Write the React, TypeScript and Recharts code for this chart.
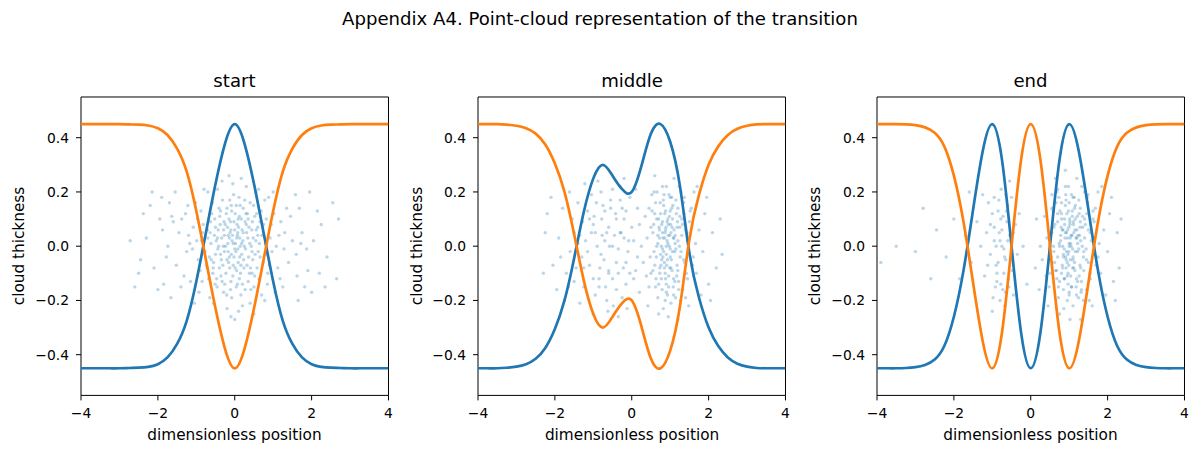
import { ScatterChart, Scatter, XAxis, YAxis, ReferenceArea } from "recharts"

const BLUE = "#1f77b4"
const ORANGE = "#ff7f0e"
const FONT = "'DejaVu Sans', sans-serif"

const suptitle = "Appendix A4. Point-cloud representation of the transition"
const panelTitles = ["start", "middle", "end"]
const xLabel = "dimensionless position"
const yLabel = "cloud thickness"
const xTicks = [-4, -2, 0, 2, 4]
const yTicks = [-0.4, -0.2, 0, 0.2, 0.4]

// positions the curves are sampled at
const positions = [
  -4, -3.75, -3.5, -3.25, -3, -2.75, -2.5, -2.25, -2, -1.75, -1.5, -1.25, -1, -0.75, -0.5, -0.25, 0,
  0.25, 0.5, 0.75, 1, 1.25, 1.5, 1.75, 2, 2.25, 2.5, 2.75, 3, 3.25, 3.5, 3.75, 4,
]

const startBlue = [
  -0.45, -0.45, -0.45, -0.45, -0.45, -0.449, -0.448, -0.445, -0.435, -0.41, -0.36, -0.275, -0.13, 0.05, 0.23, 0.38, 0.45,
  0.38, 0.23, 0.05, -0.13, -0.275, -0.36, -0.41, -0.435, -0.445, -0.448, -0.449, -0.45, -0.45, -0.45, -0.45, -0.45,
]
const startOrange = [
  0.45, 0.45, 0.45, 0.45, 0.45, 0.449, 0.448, 0.445, 0.435, 0.41, 0.36, 0.275, 0.13, -0.05, -0.23, -0.38, -0.45,
  -0.38, -0.23, -0.05, 0.13, 0.275, 0.36, 0.41, 0.435, 0.445, 0.448, 0.449, 0.45, 0.45, 0.45, 0.45, 0.45,
]
const middleBlue = [
  -0.45, -0.45, -0.45, -0.448, -0.444, -0.435, -0.415, -0.375, -0.305, -0.2, -0.045, 0.125, 0.25, 0.3, 0.26, 0.21, 0.2,
  0.295, 0.415, 0.45, 0.385, 0.225, -0.025, -0.19, -0.3, -0.368, -0.41, -0.433, -0.444, -0.449, -0.45, -0.45, -0.45,
]
const middleOrange = [
  0.45, 0.45, 0.45, 0.448, 0.444, 0.435, 0.415, 0.375, 0.305, 0.2, 0.045, -0.125, -0.25, -0.3, -0.26, -0.21, -0.2,
  -0.295, -0.415, -0.45, -0.385, -0.225, 0.025, 0.19, 0.3, 0.368, 0.41, 0.433, 0.444, 0.449, 0.45, 0.45, 0.45,
]
const endBlue = [
  -0.45, -0.45, -0.45, -0.449, -0.446, -0.438, -0.418, -0.368, -0.26, -0.09, 0.135, 0.35, 0.45, 0.32, 0.0, -0.32, -0.45,
  -0.32, 0.0, 0.32, 0.45, 0.35, 0.135, -0.09, -0.26, -0.368, -0.418, -0.438, -0.446, -0.449, -0.45, -0.45, -0.45,
]
const endOrange = [
  0.45, 0.45, 0.45, 0.449, 0.446, 0.438, 0.418, 0.368, 0.26, 0.09, -0.135, -0.35, -0.45, -0.32, 0.0, 0.32, 0.45,
  0.32, 0.0, -0.32, -0.45, -0.35, -0.135, 0.09, 0.26, 0.368, 0.418, 0.438, 0.446, 0.449, 0.45, 0.45, 0.45,
]

// point clouds, [position, thickness]
const startCloud = [
  [0.02,0.01],[-0.12,0.05],[0.18,-0.03],[-0.31,-0.07],[0.44,0.06],[-0.05,-0.11],[0.27,0.09],[-0.48,0.02],[0.09,-0.06],[-0.22,0.12],
  [0.61,-0.02],[-0.66,-0.04],[0.35,-0.13],[-0.09,0.15],[0.13,0.03],[-0.38,0.08],[0.52,0.11],[-0.17,-0.02],[0.06,0.08],[-0.57,-0.1],
  [0.71,0.04],[-0.26,-0.14],[0.22,0.14],[-0.02,-0.04],[0.39,0.01],[-0.44,-0.01],[0.15,-0.1],[-0.71,0.06],[0.58,-0.08],[-0.13,-0.08],
  [0.31,0.05],[-0.34,0.03],[0.01,0.12],[-0.52,0.1],[0.47,-0.05],[-0.07,0.02],[0.24,-0.08],[-0.19,0.07],[0.66,0.09],[-0.62,0.01],
  [0.11,0.18],[-0.29,-0.17],[0.42,-0.16],[-0.41,0.14],[0.04,-0.15],[0.19,0.06],[-0.1,-0.13],[0.55,0.02],[-0.55,-0.06],[0.33,0.12],
  [-0.24,0.0],[0.08,-0.01],[-0.36,-0.11],[0.74,-0.06],[-0.77,-0.02],[0.28,-0.01],[-0.15,0.1],[0.49,0.15],[-0.46,-0.15],[0.0,0.06],
  [0.16,-0.18],[-0.03,0.19],[0.37,0.07],[-0.6,0.12],[0.63,-0.12],[-0.2,-0.05],[0.12,0.11],[-0.32,0.17],[0.45,-0.1],[-0.08,-0.19],
  [0.21,0.02],[-0.5,-0.03],[0.8,0.01],[-0.82,0.08],[0.05,-0.09],[-0.27,0.04],[0.36,-0.04],[-0.14,0.03],[0.6,0.07],[-0.68,-0.12],
  [0.26,0.17],[-0.4,-0.08],[0.14,0.0],[-0.04,-0.07],[0.5,-0.15],[-0.58,0.16],[0.69,0.13],[-0.72,-0.08],[0.07,0.04],[-0.11,0.09],
  [0.92,0.03],[-0.95,-0.05],[1.12,-0.08],[-1.08,0.07],[0.85,-0.14],[-0.88,0.13],[1.3,0.05],[-1.25,-0.02],[1.02,0.12],[-1.15,-0.13],
  [0.97,-0.02],[-0.99,0.02],[1.4,-0.06],[-1.38,0.1],[0.88,0.18],[-0.93,-0.17],[1.2,0.09],[-1.2,0.04],[1.05,-0.17],[-1.02,0.16],
  [1.5,0.02],[-1.52,-0.07],[0.78,-0.2],[-0.8,0.21],[1.18,-0.12],[-1.32,-0.11],[0.95,0.08],[-0.9,-0.09],[1.35,0.14],[-1.45,0.05],
  [1.08,0.0],[-1.1,-0.01],[0.82,0.1],[-0.85,-0.13],[1.6,-0.03],[-1.6,0.09],[1.25,-0.15],[-1.22,0.15],[0.9,-0.07],[-0.97,0.1],
  [1.45,0.11],[-1.4,-0.15],[1.0,0.2],[-1.05,-0.21],[1.15,0.04],[-1.17,0.01],[0.86,-0.1],[-0.84,0.05],[1.28,-0.01],[-1.28,0.12],
  [0.3,0.22],[-0.2,-0.23],[0.55,0.2],[-0.45,0.21],[0.1,-0.24],[-0.65,-0.19],[0.4,-0.21],[-0.05,0.23],[0.7,-0.18],[-0.33,0.24],
  [0.2,-0.22],[0.62,0.21],[-0.55,-0.21],[0.0,-0.27],[-0.15,0.26],[0.5,-0.25],[0.17,0.25],[-0.7,0.2],[0.78,0.17],[-0.1,-0.26],
  [1.75,0.05],[-1.78,-0.04],[1.9,-0.09],[-1.95,0.1],[2.05,0.02],[-2.1,-0.08],[1.68,0.14],[-1.7,0.16],[1.82,-0.15],[-1.85,-0.14],
  [2.25,0.08],[-2.3,0.03],[2.4,-0.04],[-2.45,-0.05],[2.65,-0.12],[-2.72,0.02],[1.65,-0.2],[-1.66,-0.19],[2.15,0.13],[-2.2,0.15],
  [1.95,0.2],[-1.9,0.18],[2.0,-0.17],[-2.0,-0.16],[2.35,-0.15],[-2.5,-0.1],[1.72,0.01],[-1.74,0.0],[2.55,0.16],[-2.15,0.2],
  [1.58,0.19],[-1.55,0.2],[2.7,0.1],[-2.6,-0.15],[1.87,-0.01],[-1.88,0.06],[2.2,-0.1],[-2.38,0.12],[1.62,-0.11],[-1.64,0.11],
]
const startCore = [
  [0.03,-0.02],[-0.06,0.04],[0.1,0.07],[-0.16,-0.06],[0.23,-0.05],[-0.28,0.09],[0.34,0.03],[-0.37,-0.03],[0.41,-0.08],[-0.43,0.06],
  [0.12,-0.12],[-0.2,0.14],[0.29,0.12],[-0.33,-0.13],[0.46,0.09],[-0.5,0.07],[0.53,-0.03],[-0.56,-0.08],[0.6,0.04],[-0.63,0.09],
  [0.0,-0.01],[-0.02,0.09],[0.07,-0.14],[-0.11,-0.16],[0.17,0.1],[-0.23,-0.1],[0.25,0.0],[-0.3,0.0],[0.38,-0.1],[-0.39,0.11],
  [0.14,0.15],[-0.08,0.13],[0.2,-0.14],[-0.25,0.08],[0.32,-0.07],[-0.35,-0.05],[0.48,0.03],[-0.47,-0.12],[0.57,0.12],[-0.53,0.04],
  [0.05,0.03],[-0.14,-0.04],[0.09,0.1],[-0.18,0.01],[0.22,0.05],[-0.27,-0.02],[0.3,0.08],[-0.42,0.0],[0.43,0.0],[-0.61,-0.05],
  [0.66,-0.04],[-0.7,0.03],[0.75,0.08],[-0.74,-0.07],[0.84,-0.03],[-0.86,0.02],[0.13,-0.04],[-0.09,-0.03],[0.18,0.01],[-0.04,0.01],
  [0.01,-0.08],[0.04,0.15],[-0.13,0.17],[0.27,-0.16],[-0.21,-0.18],[0.4,0.16],[-0.37,0.13],[0.52,-0.11],[-0.51,-0.14],[0.64,0.01],
  [0.08,0.05],[-0.1,0.06],[0.16,-0.07],[-0.17,0.04],[0.35,0.1],[-0.29,0.06],[0.45,-0.02],[-0.45,0.03],[0.56,0.06],[-0.64,0.05],
]
const middleCloud = [
  [0.92,0.02],[0.78,-0.05],[1.05,0.07],[0.65,0.1],[1.2,-0.09],[0.88,-0.12],[1.0,0.13],[0.72,0.03],[1.12,-0.02],[0.95,0.08],
  [0.6,-0.07],[1.3,0.04],[0.83,0.15],[1.08,-0.15],[0.7,-0.14],[1.25,0.11],[0.9,-0.03],[0.98,0.0],[0.55,0.05],[1.38,-0.06],
  [0.8,0.09],[1.15,0.17],[0.68,-0.19],[1.02,-0.08],[0.87,0.05],[1.22,-0.13],[0.75,0.12],[1.45,0.02],[0.5,-0.1],[0.93,-0.18],
  [1.1,0.03],[0.62,0.16],[1.33,-0.16],[0.85,-0.08],[0.97,0.19],[1.18,0.07],[0.58,-0.02],[1.5,0.09],[0.73,-0.1],[1.06,0.1],
  [0.4,0.03],[1.6,-0.04],[0.9,0.22],[0.82,-0.23],[1.28,0.2],[0.66,0.2],[1.4,-0.19],[0.45,-0.15],[1.02,-0.21],[0.77,0.0],
  [1.55,0.14],[0.35,0.11],[1.68,-0.1],[0.3,-0.06],[1.75,0.06],[0.95,-0.26],[1.1,0.25],[0.52,0.19],[1.35,0.16],[0.7,-0.25],
  [1.85,-0.02],[0.25,0.0],[1.9,0.12],[0.2,-0.17],[2.0,-0.14],[1.62,0.2],[0.42,-0.22],[1.48,-0.22],[0.6,0.26],[1.2,-0.27],
  [2.1,0.05],[2.2,-0.08],[2.3,0.1],[2.35,-0.03],[1.95,0.18],[1.8,-0.18],[2.05,-0.2],[1.7,0.22],[0.15,0.14],[0.1,-0.09],
  [0.88,0.06],[1.03,-0.05],[0.8,-0.01],[1.13,0.01],[0.96,-0.11],[0.71,0.07],[1.24,0.0],[0.86,0.12],[1.07,0.15],[0.64,-0.04],
  [1.17,-0.11],[0.91,-0.07],[0.99,0.04],[0.79,-0.16],[1.32,0.08],[0.57,0.08],[1.42,-0.1],[0.84,0.19],[1.14,-0.19],[0.68,0.01],
  [0.94,0.1],[1.26,-0.04],[0.76,-0.07],[1.04,0.18],[0.48,-0.04],[1.36,0.12],[0.9,-0.14],[1.2,0.14],[0.63,-0.12],[1.0,-0.01],
  [0.74,0.16],[1.09,-0.12],[0.81,0.03],[1.44,0.05],[0.53,0.13],[1.58,-0.07],[0.87,-0.2],[1.23,0.22],[0.38,-0.11],[1.66,0.01],
  [-0.7,0.02],[-0.4,-0.06],[-1.0,0.08],[-0.2,0.1],[-1.3,-0.04],[-0.55,0.14],[-0.85,-0.12],[-0.1,-0.02],[-1.5,0.05],[-0.3,0.17],
  [-0.95,-0.18],[-0.6,-0.09],[-1.15,0.13],[0.0,0.07],[-1.7,-0.1],[-0.45,0.04],[-0.78,0.1],[-1.25,-0.15],[-0.15,-0.14],[-1.9,0.03],
  [-0.65,-0.2],[-1.05,0.19],[-0.35,-0.01],[-1.4,0.16],[0.05,-0.12],[-0.9,0.0],[-0.5,0.21],[-1.6,-0.02],[-0.25,-0.19],[-2.05,-0.07],
  [-1.2,0.02],[-0.8,0.2],[-0.05,0.18],[-1.35,-0.21],[-0.6,0.07],[-2.2,0.12],[-0.4,-0.16],[-1.1,-0.07],[-1.8,0.14],[-0.72,-0.05],
  [0.1,0.21],[-0.98,0.11],[-0.28,0.05],[-1.45,-0.08],[-0.62,-0.24],[-1.62,0.2],[-0.12,-0.23],[-2.3,-0.1],[-0.88,0.24],[-1.28,0.09],
  [-0.5,-0.12],[-0.2,0.25],[-1.0,-0.25],[-1.95,-0.16],[-0.75,0.15],[-0.35,-0.26],[-1.55,0.1],[0.15,-0.04],[-1.15,-0.02],[-0.83,-0.08],
  [-2.1,0.18],[-0.58,0.0],[-1.75,-0.2],[-0.42,0.12],[-1.35,0.04],[0.2,0.08],[-0.68,-0.15],[-1.05,0.05],[-0.22,-0.08],[-1.5,-0.13],
  [-0.92,0.16],[-0.3,0.22],[-2.25,0.05],[-1.22,0.23],[-0.08,0.02],[-1.85,-0.04],[-0.48,-0.22],[-0.15,0.13],[-1.65,-0.15],[-0.77,0.04],
]
const middleCore = [
  [0.9,0.0],[0.95,0.04],[0.85,-0.06],[1.0,-0.04],[0.8,0.05],[1.1,0.06],[0.75,-0.03],[1.05,-0.09],[0.92,0.09],[1.15,-0.01],
  [0.7,0.1],[1.2,0.02],[0.87,-0.1],[0.98,0.11],[1.08,0.03],[0.78,0.08],[1.18,-0.07],[0.83,-0.02],[1.02,0.05],[0.93,-0.05],
  [0.65,0.0],[1.28,-0.02],[0.88,0.13],[1.12,-0.13],[0.73,-0.08],[1.25,0.07],[0.96,-0.15],[1.04,0.14],[0.82,0.17],[1.16,0.12],
  [0.6,0.12],[1.35,-0.05],[0.77,-0.12],[1.3,0.1],[0.55,-0.09],[1.4,0.06],[0.9,-0.17],[1.0,0.18],[0.68,0.04],[1.22,-0.16],
  [0.94,0.01],[0.86,0.03],[1.06,-0.02],[0.81,-0.04],[1.13,0.04],[0.99,-0.08],[0.72,0.06],[1.19,0.09],[0.89,0.07],[1.01,0.08],
  [0.5,0.07],[1.45,-0.12],[0.62,-0.15],[1.52,0.13],[0.45,0.14],[1.27,-0.2],[0.8,0.22],[1.09,-0.18],[0.58,0.2],[1.37,0.18],
  [-0.5,0.0],[-0.8,-0.03],[-0.3,0.05],[-1.1,0.1],[-0.6,-0.1],[-0.95,0.05],[-0.15,-0.06],[-1.25,-0.08],[-0.4,0.1],[-0.7,0.13],
  [-0.2,0.03],[-1.4,0.01],[-0.85,-0.15],[-0.05,-0.1],[-0.55,0.17],[-1.0,-0.12],[-0.25,0.14],[-0.65,0.05],[0.05,0.02],[-0.35,-0.1],
]
const endCloud = [
  [-0.8,0.02],[-0.65,-0.05],[-0.95,0.07],[-0.72,0.11],[-0.88,-0.1],[-0.55,0.04],[-1.05,-0.03],[-0.78,-0.14],[-0.6,0.15],[-1.0,0.12],
  [-0.7,-0.01],[-0.9,0.0],[-0.48,-0.09],[-1.15,0.05],[-0.83,0.17],[-0.66,-0.17],[-1.2,-0.11],[-0.4,0.08],[-0.98,-0.19],[-0.75,0.06],
  [-0.58,-0.12],[-1.1,0.16],[-0.85,-0.06],[-0.5,0.18],[-1.3,0.0],[-0.62,0.09],[-0.92,-0.15],[-0.35,-0.03],[-1.4,0.09],[-0.77,0.21],
  [-0.68,-0.22],[-1.55,-0.06],[-0.3,0.12],[-1.25,0.19],[-0.45,-0.18],[-1.7,0.04],[-0.2,0.0],[-1.85,-0.12],[-1.0,-0.24],[-0.55,0.24],
  [-2.0,0.1],[-2.2,-0.04],[-2.45,0.06],[-2.8,0.14],[-3.0,-0.02],[-3.5,0.0],[-3.9,-0.06],[-2.6,-0.12],[-1.6,0.2],[-0.1,-0.14],
  [1.0,0.01],[0.85,-0.04],[1.15,0.06],[0.7,0.09],[1.3,-0.08],[0.95,-0.11],[1.08,0.13],[0.78,0.02],[1.22,-0.02],[1.02,0.08],
  [0.62,-0.06],[1.4,0.03],[0.9,0.15],[1.18,-0.15],[0.75,-0.13],[1.35,0.11],[0.97,-0.03],[1.05,0.0],[0.55,0.05],[1.5,-0.06],
  [0.88,0.1],[1.25,0.17],[0.72,-0.19],[1.12,-0.08],[0.93,0.05],[1.32,-0.13],[0.8,0.12],[1.58,0.02],[0.5,-0.1],[1.0,-0.18],
  [1.2,0.03],[0.66,0.16],[1.45,-0.16],[0.92,-0.08],[1.06,0.19],[1.28,0.07],[0.6,-0.02],[1.65,0.09],[0.8,-0.1],[1.16,0.1],
  [0.42,0.03],[1.75,-0.04],[0.98,0.22],[0.86,-0.23],[1.4,0.2],[0.7,0.21],[1.52,-0.2],[0.48,-0.15],[1.1,-0.22],[0.83,0.0],
  [1.68,0.14],[0.36,0.11],[1.82,-0.1],[0.3,-0.05],[1.9,0.06],[1.02,-0.27],[1.2,0.25],[0.55,0.19],[1.48,0.16],[0.75,-0.25],
  [2.0,-0.02],[0.25,0.0],[2.05,0.12],[0.22,-0.16],[2.15,-0.13],[1.75,0.2],[0.45,-0.22],[1.6,-0.22],[0.64,0.25],[1.3,-0.27],
  [2.25,0.05],[2.3,-0.08],[2.35,0.1],[2.1,0.18],[1.95,-0.18],[2.2,-0.2],[1.85,0.22],[0.15,0.1],[0.12,-0.08],[0.9,0.28],
  [0.96,0.06],[1.1,-0.05],[0.87,-0.01],[1.22,0.01],[1.04,-0.11],[0.79,0.07],[1.34,0.0],[0.94,0.12],[1.16,0.15],[0.7,-0.04],
  [1.26,-0.11],[0.99,-0.07],[1.07,0.04],[0.85,-0.16],[1.42,0.08],[0.63,0.08],[1.54,-0.1],[0.91,0.19],[1.24,-0.19],[0.74,0.01],
  [1.01,0.1],[1.37,-0.04],[0.82,-0.07],[1.13,0.18],[0.53,-0.04],[1.46,0.12],[0.97,-0.14],[1.29,0.14],[0.68,-0.12],[1.09,-0.01],
  [0.8,0.16],[1.19,-0.12],[0.89,0.03],[1.55,0.05],[0.58,0.13],[1.7,-0.07],[0.95,-0.2],[1.33,0.22],[0.4,-0.11],[1.78,0.01],
  [1.03,0.03],[1.14,-0.06],[0.92,-0.05],[1.27,0.04],[0.84,0.06],[1.06,-0.15],[0.76,0.13],[1.38,-0.09],[1.0,0.16],[1.21,0.11],
  [0.67,-0.09],[1.44,-0.01],[0.88,-0.12],[1.11,0.09],[0.59,0.0],[1.62,0.1],[0.99,-0.02],[1.31,-0.17],[0.73,0.18],[1.49,0.19],
]
const endCore = [
  [-0.75,0.0],[-0.82,0.05],[-0.68,-0.04],[-0.9,-0.07],[-0.6,0.02],[-0.78,0.1],[-0.7,-0.1],[-0.95,0.02],[-0.52,-0.05],[-0.85,0.13],
  [-0.63,0.13],[-0.88,-0.13],[-0.73,-0.16],[-1.05,0.08],[-0.45,0.05],[-0.8,-0.2],[-0.65,0.19],[-1.12,-0.07],[-0.57,-0.15],[-0.95,0.18],
  [1.0,0.0],[1.05,0.04],[0.95,-0.06],[1.1,-0.04],[0.9,0.05],[1.2,0.06],[0.85,-0.03],[1.15,-0.09],[1.02,0.09],[1.25,-0.01],
  [0.8,0.1],[1.3,0.02],[0.97,-0.1],[1.08,0.11],[1.18,0.03],[0.88,0.08],[1.28,-0.07],[0.93,-0.02],[1.12,0.05],[1.03,-0.05],
  [0.75,0.0],[1.38,-0.02],[0.98,0.13],[1.22,-0.13],[0.83,-0.08],[1.35,0.07],[1.06,-0.15],[1.14,0.14],[0.92,0.17],[1.26,0.12],
  [0.7,0.12],[1.45,-0.05],[0.87,-0.12],[1.4,0.1],[0.65,-0.09],[1.5,0.06],[1.0,-0.17],[1.1,0.18],[0.78,0.04],[1.32,-0.16],
  [1.04,0.01],[0.96,0.03],[1.16,-0.02],[0.91,-0.04],[1.23,0.04],[1.09,-0.08],[0.82,0.06],[1.29,0.09],[0.99,0.07],[1.11,0.08],
  [0.6,0.07],[1.55,-0.12],[0.72,-0.15],[1.62,0.13],[0.55,0.14],[1.37,-0.2],[0.9,0.22],[1.19,-0.18],[0.68,0.2],[1.47,0.18],
]

const PLOT_W = 307.5
const PLOT_H = 298.4
const PLOT_TOP = 97.3
const plotLefts = [80.7, 478.3, 876.7]

const minus = (s: string) => s.replace("-", "\u2212")
const tickStyle = { fill: "#000", fontSize: 13.9, fontFamily: FONT }

const CloudDot = (props: any) => (
  <circle cx={props.cx} cy={props.cy} r={1.7} fill={BLUE} fillOpacity={0.3} />
)
const NoDot = () => <g />

function Panel({ title, blue, orange, cloud, left }: any) {
  const blueLine = positions.map((x, i) => ({ x, y: blue[i] }))
  const orangeLine = positions.map((x, i) => ({ x, y: orange[i] }))
  const cloudPts = cloud.map((p: number[]) => ({ x: p[0], y: p[1] }))
  return (
    <>
      <div style={{ position: "absolute", left, width: PLOT_W, top: 70, height: 22, lineHeight: "22px", textAlign: "center", fontSize: 18.1 }}>
        {title}
      </div>
      <div style={{ position: "absolute", left: left - 61.8 - 100, top: 246 - 9, width: 200, height: 18, lineHeight: "18px", textAlign: "center", fontSize: 15.3, transform: "rotate(-90deg)" }}>
        {yLabel}
      </div>
      <div style={{ position: "absolute", left, width: PLOT_W, top: 425.7, height: 18, lineHeight: "18px", textAlign: "center", fontSize: 15.3 }}>
        {xLabel}
      </div>
      <div style={{ position: "absolute", left: left - 70, top: PLOT_TOP - 10 }}>
        <ScatterChart width={PLOT_W + 75} height={PLOT_H + 40} margin={{ top: 10, right: 5, bottom: 0, left: 10 }}>
          <XAxis
            type="number"
            dataKey="x"
            domain={[-4, 4]}
            ticks={xTicks}
            allowDataOverflow
            height={30}
            axisLine={false}
            tickSize={5}
            tickMargin={8}
            tickLine={{ stroke: "#000", strokeWidth: 1 }}
            tick={tickStyle}
            tickFormatter={(v: number) => minus(String(v))}
          />
          <YAxis
            type="number"
            dataKey="y"
            domain={[-0.55, 0.55]}
            ticks={yTicks}
            allowDataOverflow
            width={60}
            axisLine={false}
            tickSize={5}
            tickMargin={7}
            tickLine={{ stroke: "#000", strokeWidth: 1 }}
            tick={tickStyle}
            tickFormatter={(v: number) => minus(v.toFixed(1))}
          />
          <Scatter data={cloudPts} shape={CloudDot} isAnimationActive={false} />
          <Scatter
            data={blueLine}
            fill={BLUE}
            line={{ stroke: BLUE, strokeWidth: 2.7 }}
            lineJointType="natural"
            shape={NoDot}
            isAnimationActive={false}
          />
          <Scatter
            data={orangeLine}
            fill={ORANGE}
            line={{ stroke: ORANGE, strokeWidth: 2.7 }}
            lineJointType="natural"
            shape={NoDot}
            isAnimationActive={false}
          />
          <ReferenceArea x1={-4} x2={4} y1={-0.55} y2={0.55} fill="none" fillOpacity={0} stroke="#000" strokeWidth={1} />
        </ScatterChart>
      </div>
    </>
  )
}

export default function App() {
  return (
    <div style={{ position: "absolute", left: 0, top: 0, width: 1200, height: 455, background: "#fff", fontFamily: FONT, color: "#000" }}>
      <div style={{ position: "absolute", left: 0, width: 1200, top: 8.4, height: 22, lineHeight: "22px", textAlign: "center", fontSize: 18.1 }}>
        {suptitle}
      </div>
      <Panel title={panelTitles[0]} blue={startBlue} orange={startOrange} cloud={[...startCloud, ...startCore]} left={plotLefts[0]} />
      <Panel title={panelTitles[1]} blue={middleBlue} orange={middleOrange} cloud={[...middleCloud, ...middleCore]} left={plotLefts[1]} />
      <Panel title={panelTitles[2]} blue={endBlue} orange={endOrange} cloud={[...endCloud, ...endCore]} left={plotLefts[2]} />
    </div>
  )
}
